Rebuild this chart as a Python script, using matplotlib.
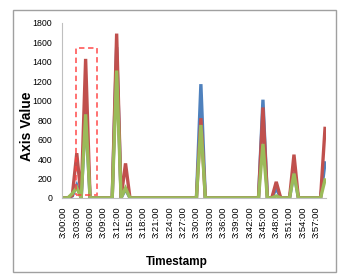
# Line chart of three series sampled every minute, 3:00 to 3:59
import numpy as np
import matplotlib.pyplot as plt
from matplotlib.patches import Rectangle

# minute index 0..59 -> 3:00:00 .. 3:59:00
minutes = list(range(60))
tick_minutes = list(range(0, 60, 3))
tick_labels = ["3:%02d:00" % m for m in tick_minutes]

# values (0 everywhere except the spikes)
blue = [0, 0, 20, 130, 0, 880, 0, 0, 0, 0, 0, 0, 1550, 0, 90, 0, 0, 0, 0, 0,
        0, 0, 0, 0, 0, 0, 0, 0, 0, 0, 0, 1170, 0, 0, 0, 0, 0, 0, 0, 0,
        0, 0, 0, 0, 0, 1010, 0, 0, 100, 0, 0, 0, 260, 0, 0, 0, 0, 0, 0, 360]
red = [0, 0, 25, 460, 0, 1430, 0, 0, 0, 0, 0, 0, 1690, 0, 355, 0, 0, 0, 0, 0,
       0, 0, 0, 0, 0, 0, 0, 0, 0, 0, 0, 820, 0, 0, 0, 0, 0, 0, 0, 0,
       0, 0, 0, 0, 0, 930, 0, 0, 165, 0, 0, 0, 445, 0, 0, 0, 0, 0, 0, 715]
green = [0, 0, 45, 105, 0, 860, 0, 0, 0, 0, 0, 0, 1310, 0, 100, 0, 0, 0, 0, 0,
         0, 0, 0, 0, 0, 0, 0, 0, 0, 0, 0, 750, 0, 0, 0, 0, 0, 0, 0, 0,
         0, 0, 0, 0, 0, 555, 0, 0, 20, 0, 0, 0, 250, 0, 0, 0, 0, 0, 0, 185]

# highlighted region (minutes, axis value)
box_x = (2.85, 7.5)
box_y = (25, 1545)

plt.rcParams['font.family'] = ['Liberation Sans', 'DejaVu Sans']

fig = plt.figure(figsize=(3.55, 2.76), dpi=100)
ax = fig.add_axes([0.175, 0.283, 0.743, 0.634])

ax.plot(minutes, blue, color='#4F81BD', lw=2.4, solid_joinstyle='miter')
ax.plot(minutes, red, color='#C0504D', lw=2.4, solid_joinstyle='miter')
ax.plot(minutes, green, color='#9BBB59', lw=2.4, solid_joinstyle='miter')

ax.add_patch(Rectangle((box_x[0], box_y[0]), box_x[1] - box_x[0], box_y[1] - box_y[0],
                       fill=False, ec='#FF4040', lw=1.3, ls=(0, (3, 2)), alpha=0.8,
                       clip_on=False, zorder=5))

ax.set_xlim(-0.3, 59.2)
ax.set_ylim(0, 1800)
ax.set_yticks(range(0, 1801, 200))
ax.set_xticks(tick_minutes)
ax.set_xticklabels(tick_labels, rotation=90, fontsize=6.8)
ax.tick_params(axis='y', labelsize=6.3, length=0, pad=7)
ax.tick_params(axis='x', length=0, pad=6)

for s in ['top', 'right']:
    ax.spines[s].set_visible(False)
ax.spines['left'].set_color('#BFBFBF')
ax.spines['bottom'].set_color('#BFBFBF')

fig.text(176.5 / 355, 1 - 261.7 / 276, 'Timestamp', fontsize=8.5, fontweight='bold',
         ha='center', va='center')
fig.text(27 / 355, 1 - 126.7 / 276, 'Axis Value', fontsize=10, fontweight='bold',
         rotation=90, ha='center', va='center')

# outer chart border
fig.patches.append(Rectangle((13 / 355, 4 / 276), 323 / 355, 262 / 276,
                             transform=fig.transFigure, fill=False,
                             ec='#A0A0A0', lw=1))

fig.savefig('out.png', dpi=100)
